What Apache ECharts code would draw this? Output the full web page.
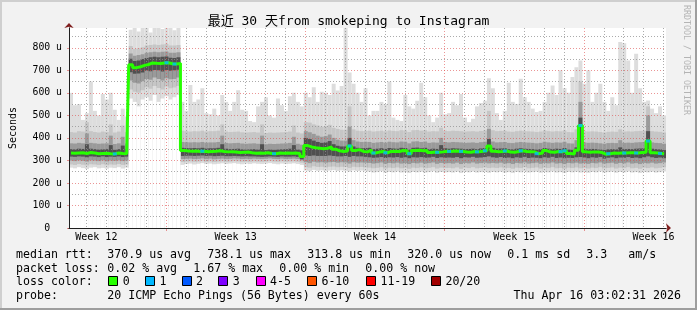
<!DOCTYPE html>
<html><head><meta charset="utf-8">
<script src="https://cdn.jsdelivr.net/npm/echarts@6/dist/echarts.min.js"></script>
<style>html,body{margin:0;padding:0;background:#f2f2f2}#c{width:697px;height:310px}</style>
</head><body><div id="c"></div>
<script>
// ---- DATA (values in microseconds; 150 bins of 4.8 h over 30 days) ----
const med = [333,332,333,334,331,335,333,330,331,332,
330,329,333,331,330,725,712,716,722,726,
733,731,730,733,734,729,728,731,344,342,
341,342,340,341,339,340,341,343,340,338,
339,337,335,336,337,334,332,333,332,334,
331,330,333,332,333,332,333,331,318,366,
360,356,354,352,354,360,350,343,340,342,
364,344,348,340,338,346,333,337,340,334,
340,341,340,344,343,330,344,345,343,344,
335,337,336,338,341,340,342,341,340,337,
336,340,338,341,343,364,341,339,340,342,
337,336,340,343,340,339,338,330,333,344,
337,336,340,339,343,331,329,345,455,338,
336,338,337,335,327,330,333,332,333,333,
334,334,333,335,336,386,334,333,331,328];
const sMax = [600,545,550,480,510,650,520,500,595,570,
600,525,480,530,495,880,888,872,888,888,
868,888,888,884,888,888,878,888,560,520,
635,560,570,620,510,505,530,500,590,560,
520,560,612,525,520,475,470,540,560,580,
500,490,575,545,520,585,600,560,540,600,
580,625,560,605,600,590,640,610,630,888,
690,640,600,560,620,500,520,520,560,550,
650,490,480,475,590,540,530,565,645,580,
500,470,490,600,505,510,560,545,595,490,
470,485,540,555,565,665,620,510,480,520,
645,560,551,663,580,560,530,515,520,560,
600,633,590,700,620,600,670,714,744,640,
700,560,600,640,560,520,580,545,826,820,
744,600,774,620,560,566,530,510,540,500];
const sB2 = [426,424,430,428,470,430,426,424,428,426,460,424,428,455,426,
808,795,798,802,810,812,815,812,815,818,810,810,812,
432,430,428,430,429,432,428,430,430,432,460,428,426,427,428,425,424,425,426,424,460,422,424,423,424,425,426,428,455,424,420,
470,468,460,455,450,452,458,445,440,436,436,540,438,432,430,431,
432,428,430,432,429,433,431,430,434,433,
426,434,435,432,434,428,430,429,445,432,
430,432,431,430,428,429,430,428,431,433,
520,434,430,431,432,428,427,430,432,430,
429,428,426,428,433,430,428,430,429,433,
426,425,438,650,430,428,429,428,426,424,
427,428,427,438,428,429,428,430,431,432,
540,430,428,427,424];
const sB3 = [376,375,378,376,420,378,376,374,375,376,410,373,376,405,375,
775,765,768,772,778,780,782,780,782,784,778,778,780,
382,381,380,381,380,382,379,380,380,382,410,378,376,377,378,375,374,375,376,374,410,372,374,373,374,375,376,378,405,374,370,
430,425,418,410,405,408,415,400,392,388,388,450,390,384,382,383,
382,378,380,382,379,383,381,380,384,383,
376,384,385,382,384,378,380,379,400,382,
380,382,381,380,378,379,380,378,381,383,
440,384,380,381,382,378,377,380,382,380,
379,378,376,378,383,380,378,380,379,383,
376,375,390,560,380,378,379,378,376,374,
377,378,377,390,378,379,378,380,381,382,
500,380,378,377,374];
const sB4 = [350,349,352,351,372,352,350,348,349,350,368,347,350,366,349,
752,742,744,750,755,758,760,758,760,762,756,755,758,
356,355,354,355,354,356,353,354,354,356,372,352,350,351,352,349,348,349,350,348,372,346,348,347,348,349,350,352,368,348,345,
400,395,388,382,378,380,386,372,365,362,362,400,362,356,354,355,
356,350,352,354,351,355,353,352,356,355,
348,356,357,354,356,350,352,351,368,354,
352,354,353,352,350,351,352,350,353,355,
395,356,352,353,354,350,349,352,354,352,
351,350,348,350,355,352,350,352,351,355,
348,347,358,490,352,350,351,350,348,346,
349,350,349,358,350,351,350,352,353,354,
430,352,350,349,346];
const sA4 = [317,316,318,317,314,318,317,315,318,315,317,316,318,315,317,
692,685,686,690,698,696,702,700,695,702,698,700,703,
320,321,321,320,321,322,320,321,319,320,321,319,319,320,319,318,319,318,318,317,316,317,318,317,316,318,317,317,318,316,305,
322,320,322,320,320,320,322,320,318,318,320,316,320,318,318,316,
314,312,313,315,311,314,313,315,312,314,
310,314,313,315,312,313,316,311,314,312,
313,312,315,310,314,313,316,312,313,315,
318,314,312,315,311,313,310,314,312,316,
311,313,312,310,314,312,316,311,313,310,
312,311,314,315,313,310,314,312,315,308,
312,314,310,313,312,315,311,313,310,314,
318,314,311,313,310];
const sA3 = [299,297,300,298,295,300,299,297,300,296,299,298,300,297,299,
655,645,642,652,662,658,668,662,655,665,660,662,668,
306,307,308,306,307,309,306,308,305,307,308,306,307,309,308,306,307,306,308,307,306,307,309,307,306,308,306,307,308,306,300,
292,288,294,291,292,290,292,293,290,292,291,286,292,290,291,290,
289,286,288,291,285,289,287,290,286,288,
284,289,287,290,286,288,291,285,289,287,
288,286,290,284,289,287,291,286,288,290,
287,289,287,290,286,288,284,289,287,291,
286,288,290,285,289,287,291,286,288,284,
289,287,290,286,288,285,289,287,291,286,
288,290,285,289,287,291,286,288,284,289,
287,290,286,288,291];
const sA2 = [282,280,284,281,278,283,282,280,283,279,282,281,284,280,282,
615,605,600,612,625,618,630,622,615,628,620,624,630,
293,295,296,294,295,297,294,296,293,295,296,294,295,297,296,294,295,294,296,295,294,295,297,295,294,296,294,295,296,294,290,
270,268,274,271,272,269,272,273,270,272,271,266,272,270,271,269,
268,265,267,270,264,268,266,269,265,267,
263,268,266,269,265,267,270,264,268,266,
267,265,269,263,268,266,270,265,267,269,
266,268,266,269,265,267,263,268,266,270,
265,267,269,264,268,266,270,265,267,263,
268,266,269,265,267,264,268,266,270,265,
267,269,264,268,266,270,265,267,263,268,
266,269,265,267,270];
const sMin = [268,265,270,266,262,268,270,265,267,263,268,266,270,264,268,
575,560,540,570,580,565,590,560,575,585,570,580,590,
280,284,286,282,285,288,284,286,283,285,287,284,286,288,285,283,286,284,287,285,284,286,288,285,283,286,284,285,287,284,280,
255,252,258,254,256,252,255,257,253,256,254,250,256,253,255,252,
250,246,248,252,245,249,247,251,246,248,
244,249,247,250,246,248,252,245,249,247,
248,246,250,244,249,247,251,246,248,250,
245,249,247,250,246,248,244,249,247,251,
246,248,250,245,249,247,251,246,248,244,
249,247,250,246,248,245,249,247,251,246,
248,250,245,249,247,251,246,248,244,249,
247,250,246,248,251];
// bins whose median had 1/20 packets lost
const lossOne = [11,24,26,33,51,70,76,79,85,92,95,98,102,104,109,113,117,123,124,128,135,139,142,145,148];

// axis ticks (x in days since graph start, Tue Mar 17 03:02:31)
const yMajor = [0,100,200,300,400,500,600,700,800];
const yMinor = [50,150,250,350,450,550,650,750,850];
const firstMidnight = 0.8733;
const weekBounds = [4.8733, 11.8733, 18.8733, 25.8733];
const weekCenters = [1.3733, 8.3733, 15.3733, 22.3733, 29.3733];
const weekLabels = ['Week 12','Week 13','Week 14','Week 15','Week 16'];

const titleText = '最近 30 天from smokeping to Instagram';
const rttStats = ['370.9 us avg','738.1 us max','313.8 us min','320.0 us now','0.1 ms sd','3.3','am/s'];
const lossStats = ['0.02 % avg','1.67 % max','0.00 % min','0.00 % now'];
const lossColors = [['0','#26ff00'],['1','#00b8ff'],['2','#0059ff'],['3','#7e00ff'],['4-5','#ff00ff'],['6-10','#ff5500'],['11-19','#ff0000'],['20/20','#a10000']];
const probeText = '20 ICMP Echo Pings (56 Bytes) every 60s';
const dateText = 'Thu Apr 16 03:02:31 2026';

// ---- sanity ----
[sMax,sB2,sB3,sB4,sA4,sA3,sA2,sMin].forEach((a,k)=>{ if (a.length !== med.length) throw new Error('len '+k+' '+a.length); });

// ---- build ----
const MONO = '"DejaVu Sans Mono", monospace';
const dayLines = [];
for (let d = firstMidnight; d < 30; d += 1) {
  if (!weekBounds.some(w => Math.abs(w - d) < 0.01)) dayLines.push(+d.toFixed(4));
}
const cats = med.map((_, i) => i);
const GRID = 'rgba(143,143,143,0.75)';
const MGRID = 'rgba(222,79,79,0.6)';

const layers = [
  [sMax, '#dddddd'], [sB2, '#c6c6c6'], [sB3, '#9a9a9a'], [sB4, '#505050'],
  [sA4, '#9a9a9a'], [sA3, '#c6c6c6'], [sA2, '#dddddd'], [sMin, '#ffffff']
];
const series = layers.map(([d, c]) => ({
  type: 'bar', data: d, xAxisIndex: 0, yAxisIndex: 0,
  barGap: '-100%', barCategoryGap: '0%', itemStyle: { color: c },
  silent: true, z: 2
}));
series.push({
  type: 'line', data: med, xAxisIndex: 0, yAxisIndex: 0, step: 'middle',
  symbol: 'none', lineStyle: { color: '#26ff00', width: 3 }, z: 10, silent: true
});
series.push({
  type: 'scatter', data: lossOne.map(i => [i, med[i]]), xAxisIndex: 0, yAxisIndex: 0,
  symbol: 'rect', symbolSize: [4, 3], itemStyle: { color: '#00b8ff' }, z: 11, silent: true
});

const graphic = [];
const T = (x, y, text, extra) => graphic.push({
  type: 'text', x, y, silent: true,
  style: Object.assign({ text, fill: '#000', font: '11.6px ' + MONO, verticalAlign: 'middle', align: 'left' }, extra || {})
});
// borders
graphic.push({ type: 'rect', shape: { x: 0, y: 0, width: 697, height: 2 }, style: { fill: '#cfcfcf' }, silent: true });
graphic.push({ type: 'rect', shape: { x: 0, y: 0, width: 2, height: 310 }, style: { fill: '#cfcfcf' }, silent: true });
graphic.push({ type: 'rect', shape: { x: 0, y: 308, width: 697, height: 2 }, style: { fill: '#9e9e9e' }, silent: true });
graphic.push({ type: 'rect', shape: { x: 695, y: 0, width: 2, height: 310 }, style: { fill: '#9e9e9e' }, silent: true });
// title
T(348.5, 21.5, titleText, { align: 'center', font: '13px ' + MONO + ', "Noto Sans CJK SC"' });
// watermark
graphic.push({ type: 'text', x: 686.5, y: 60, rotation: -Math.PI / 2, silent: true,
  style: { text: 'RRDTOOL / TOBI OETIKER', fill: '#b4b4b4', font: '8.3px ' + MONO, align: 'center', verticalAlign: 'middle' } });
// legend rows
const rttX = [107.3, 207.3, 307.3, 407.3, 507.3, 586.3, 628.3];
T(16, 254.5, 'median rtt:');
rttStats.forEach((s, i) => T(rttX[i], 254.5, s));
const lossX = [107.3, 193.3, 279.3, 365.3];
T(16, 268.5, 'packet loss:');
lossStats.forEach((s, i) => T(lossX[i], 268.5, s));
T(16, 282.3, 'loss color:');
const boxX = [108.3, 145, 181.7, 218.3, 255.7, 307, 366, 431];
lossColors.forEach(([lab, col], i) => {
  graphic.push({ type: 'rect', silent: true, shape: { x: Math.round(boxX[i]) + 0.5, y: 276.5, width: 9, height: 9 },
    style: { fill: col, stroke: '#000', lineWidth: 1 } });
  T(boxX[i] + 14.4, 282.3, lab);
});
T(16, 296.3, 'probe:');
T(107.3, 296.3, probeText);
T(681, 296.3, dateText, { align: 'right' });

const option = {
  animation: false,
  backgroundColor: '#f2f2f2',
  grid: { left: 66, top: 28, width: 600, height: 200, show: true, backgroundColor: '#ffffff', borderWidth: 0 },
  xAxis: [
    { type: 'category', data: cats, boundaryGap: true, position: 'bottom', show: false },
    { type: 'value', min: 0, max: 30, position: 'bottom', z: 6,
      axisLine: { show: true, onZero: false, lineStyle: { color: '#1f1f1f', width: 1 } },
      axisTick: { show: false, customValues: dayLines },
      axisLabel: { show: false },
      splitLine: { show: true, lineStyle: { color: GRID, width: 1, type: [1, 2] } } },
    { type: 'value', min: 0, max: 30, position: 'bottom', z: 5,
      axisLine: { show: true, onZero: false, symbol: ['none', 'arrow'], symbolSize: [7, 5], symbolOffset: [0, 5], lineStyle: { color: '#801f1f', width: 1 } },
      axisTick: { show: true, customValues: weekBounds, length: 3, lineStyle: { color: MGRID } },
      axisLabel: { show: false },
      splitLine: { show: true, lineStyle: { color: MGRID, width: 1, type: [1, 2] } } },
    { type: 'value', min: 0, max: 30, position: 'bottom', z: 5,
      axisLine: { show: false, onZero: false }, axisTick: { show: false },
      axisLabel: { show: true, customValues: weekCenters, margin: 4, color: '#000', fontFamily: MONO, fontSize: 10,
        formatter: v => { const k = weekCenters.findIndex(c => Math.abs(c - v) < 1e-6); return k >= 0 ? weekLabels[k] : ''; } },
      splitLine: { show: false } }
  ],
  yAxis: [
    { type: 'value', min: 0, max: 888, position: 'left', z: 6,
      axisLine: { show: true, onZero: false, lineStyle: { color: '#1f1f1f', width: 1 } },
      axisTick: { show: false, customValues: yMinor },
      axisLabel: { show: false },
      splitLine: { show: true, lineStyle: { color: GRID, width: 1, type: [1, 2] } } },
    { type: 'value', min: 0, max: 888, position: 'left', z: 5,
      name: 'Seconds', nameLocation: 'middle', nameGap: 51,
      nameTextStyle: { fontFamily: MONO, fontSize: 10, color: '#000' },
      axisLine: { show: true, onZero: false, symbol: ['none', 'arrow'], symbolSize: [7, 5], symbolOffset: [0, 5], lineStyle: { color: '#801f1f', width: 1 } },
      axisTick: { show: true, customValues: yMajor, length: 2, lineStyle: { color: MGRID } },
      axisLabel: { show: true, customValues: yMajor, margin: 7, color: '#000', fontFamily: MONO, fontSize: 9.8,
        formatter: v => v === 0 ? '0  ' : v + ' u' },
      splitLine: { show: true, showMinLine: false, lineStyle: { color: MGRID, width: 1, type: [1, 2] } } }
  ],
  series,
  graphic
};
const chart = echarts.init(document.getElementById('c'), null, { renderer: 'canvas' });
chart.setOption(option);
</script></body></html>
